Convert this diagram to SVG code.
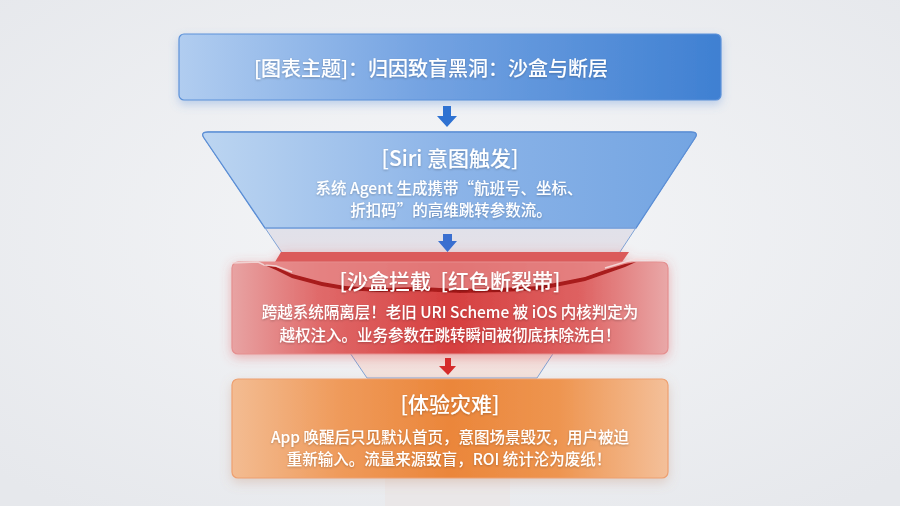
<svg xmlns="http://www.w3.org/2000/svg" width="900" height="506" viewBox="0 0 900 506">
<style>
text{font-family:"Noto Sans CJK SC","Noto Sans",sans-serif;fill:#fff;text-anchor:middle;filter:url(#ts);font-weight:500}
.h{font-size:21px}
.b{font-size:15.5px}
</style>
<defs>
<radialGradient id="bg" cx="0.5" cy="0.45" r="0.7">
<stop offset="0" stop-color="#f5f6f8"/><stop offset="1" stop-color="#e6e8ec"/>
</radialGradient>
<linearGradient id="gTop" x1="0" y1="0" x2="1" y2="0">
<stop offset="0" stop-color="#b1cdf0"/><stop offset="0.45" stop-color="#74a3e2"/><stop offset="1" stop-color="#3f80d2"/>
</linearGradient>
<linearGradient id="gFun" x1="0" y1="0" x2="1" y2="0">
<stop offset="0" stop-color="#bcd5f1"/><stop offset="0.5" stop-color="#8cb4e8"/><stop offset="1" stop-color="#74a5e2"/>
</linearGradient>
<linearGradient id="gFunLow" x1="0" y1="0" x2="0" y2="1">
<stop offset="0" stop-color="#cfdcf0"/><stop offset="0.22" stop-color="#dbe3ef"/><stop offset="0.84" stop-color="#f0dcdc"/><stop offset="1" stop-color="#f2e2dd"/>
</linearGradient>
<linearGradient id="gRed" x1="0" y1="0" x2="1" y2="0">
<stop offset="0" stop-color="#e8a3a3"/><stop offset="0.2" stop-color="#e06a6a"/><stop offset="0.5" stop-color="#d63f3f"/><stop offset="0.8" stop-color="#de6262"/><stop offset="1" stop-color="#e9a8a8"/>
</linearGradient>
<linearGradient id="gOr" x1="0" y1="0" x2="1" y2="0">
<stop offset="0" stop-color="#f3bc92"/><stop offset="0.25" stop-color="#ef9a5a"/><stop offset="0.5" stop-color="#eb863a"/><stop offset="0.75" stop-color="#ee9550"/><stop offset="1" stop-color="#f4c09a"/>
</linearGradient>
<filter id="ts" x="-10%" y="-40%" width="120%" height="180%">
<feDropShadow dx="0" dy="1" stdDeviation="1" flood-color="#000" flood-opacity="0.25"/>
</filter>
<filter id="glowB" x="-10%" y="-40%" width="120%" height="190%">
<feDropShadow dx="0" dy="4" stdDeviation="5" flood-color="#5b8fd8" flood-opacity="0.35"/>
</filter>
<filter id="glowR" x="-10%" y="-40%" width="120%" height="190%">
<feDropShadow dx="0" dy="3" stdDeviation="6" flood-color="#e05050" flood-opacity="0.4"/>
</filter>
<filter id="glowO" x="-10%" y="-40%" width="120%" height="190%">
<feDropShadow dx="0" dy="4" stdDeviation="6" flood-color="#c08060" flood-opacity="0.3"/>
</filter>
</defs>
<rect width="900" height="506" fill="url(#bg)"/>
<rect x="385" y="478" width="125" height="28" fill="#ebe3e0" opacity="0.45"/>

<g id="title" filter="url(#glowB)">
<rect x="179" y="34" width="542" height="66" rx="5" fill="url(#gTop)" stroke="#5d92d9" stroke-width="1.2"/>
<text class="h" x="431" y="76" style="font-size:20px">[图表主题]：归因致盲黑洞：沙盒与断层</text>
</g>

<g id="siri">
<path d="M208,132 H691 Q699,132 695,138 L537,378 H367 L204,138 Q200,132 208,132 Z" fill="url(#gFunLow)" stroke="#7fa3d6" stroke-width="1"/>
<path d="M208,132 H691 Q699,132 695,138 L636,228 H265 L204,138 Q200,132 208,132 Z" fill="url(#gFun)" stroke="#5b8ed5" stroke-width="1.3"/>
<line x1="265" y1="228" x2="636" y2="228" stroke="#8fb2e2" stroke-width="1.2"/>
<text class="h" x="450" y="166">[Siri 意图触发]</text>
<text class="b" x="449" y="194">系统 Agent 生成携带“航班号、坐标、</text>
<text class="b" x="451" y="216">折扣码”的高维跳转参数流。</text>
</g>

<g id="sandbox" filter="url(#glowR)">
<path d="M281,252 H629 L622,262 H275 Z" fill="#db5a5a"/>
<rect x="232" y="262" width="436" height="92" rx="6" fill="url(#gRed)" stroke="#e58f8f" stroke-width="1.2"/>
<path d="M262,262 L264,265 L276,268 L292,275 L322,283 L345,287 L380,289 L420,288 L460,290 L500,289 L540,287 L560,283 L585,278 L605,271 L625,265 L636,262 Z" fill="#e78b8b" opacity="0.7"/>
<path d="M262,264 L276,267 L292,274 L322,282 L345,286 L380,288 L420,287 L460,289 L500,288 L540,286 L560,282 L585,277 L605,270 L625,264 L636,262 L625,267 L605,274 L585,281 L560,286 L540,290 L500,292 L460,293 L420,291 L380,292 L345,290 L322,286 L292,278 L276,270 Z" fill="#a81a1a"/>
<path d="M232,263 L258,262 L264,265 L276,266 L292,272" fill="none" stroke="#f2d8d8" stroke-width="1.4" opacity="0.9"/>
<path d="M605,268 L625,262 L636,259 L668,261" fill="none" stroke="#f5dcdc" stroke-width="1.4" opacity="0.9"/>
<text class="h" x="450" y="289" xml:space="preserve">[沙盒拦截  [红色断裂带]</text>
<text class="b" x="450" y="318">跨越系统隔离层！老旧 URI Scheme 被 iOS 内核判定为</text>
<text class="b" x="450" y="341">越权注入。业务参数在跳转瞬间被彻底抹除洗白！</text>
</g>

<g id="disaster" filter="url(#glowO)">
<rect x="232" y="379" width="436" height="99" rx="6" fill="url(#gOr)" stroke="#eea070" stroke-width="1.2"/>
<text class="h" x="450" y="412">[体验灾难]</text>
<text class="b" x="450" y="443">App 唤醒后只见默认首页，意图场景毁灭，用户被迫</text>
<text class="b" x="449" y="465">重新输入。流量来源致盲，ROI 统计沦为废纸！</text>
</g>

<g id="connectors">
<polygon points="443,106 451,106 451,116 457,116 447,127 437,116 443,116" fill="#2f72d2"/>
<polygon points="443,234 452,234 452,241 457,241 447.5,252 438,241 443,241" fill="#3a6fd0"/>
<polygon points="445,358 451,358 451,366 456,366 448,375 439,366 445,366" fill="#d52b2b"/>
</g>
</svg>
